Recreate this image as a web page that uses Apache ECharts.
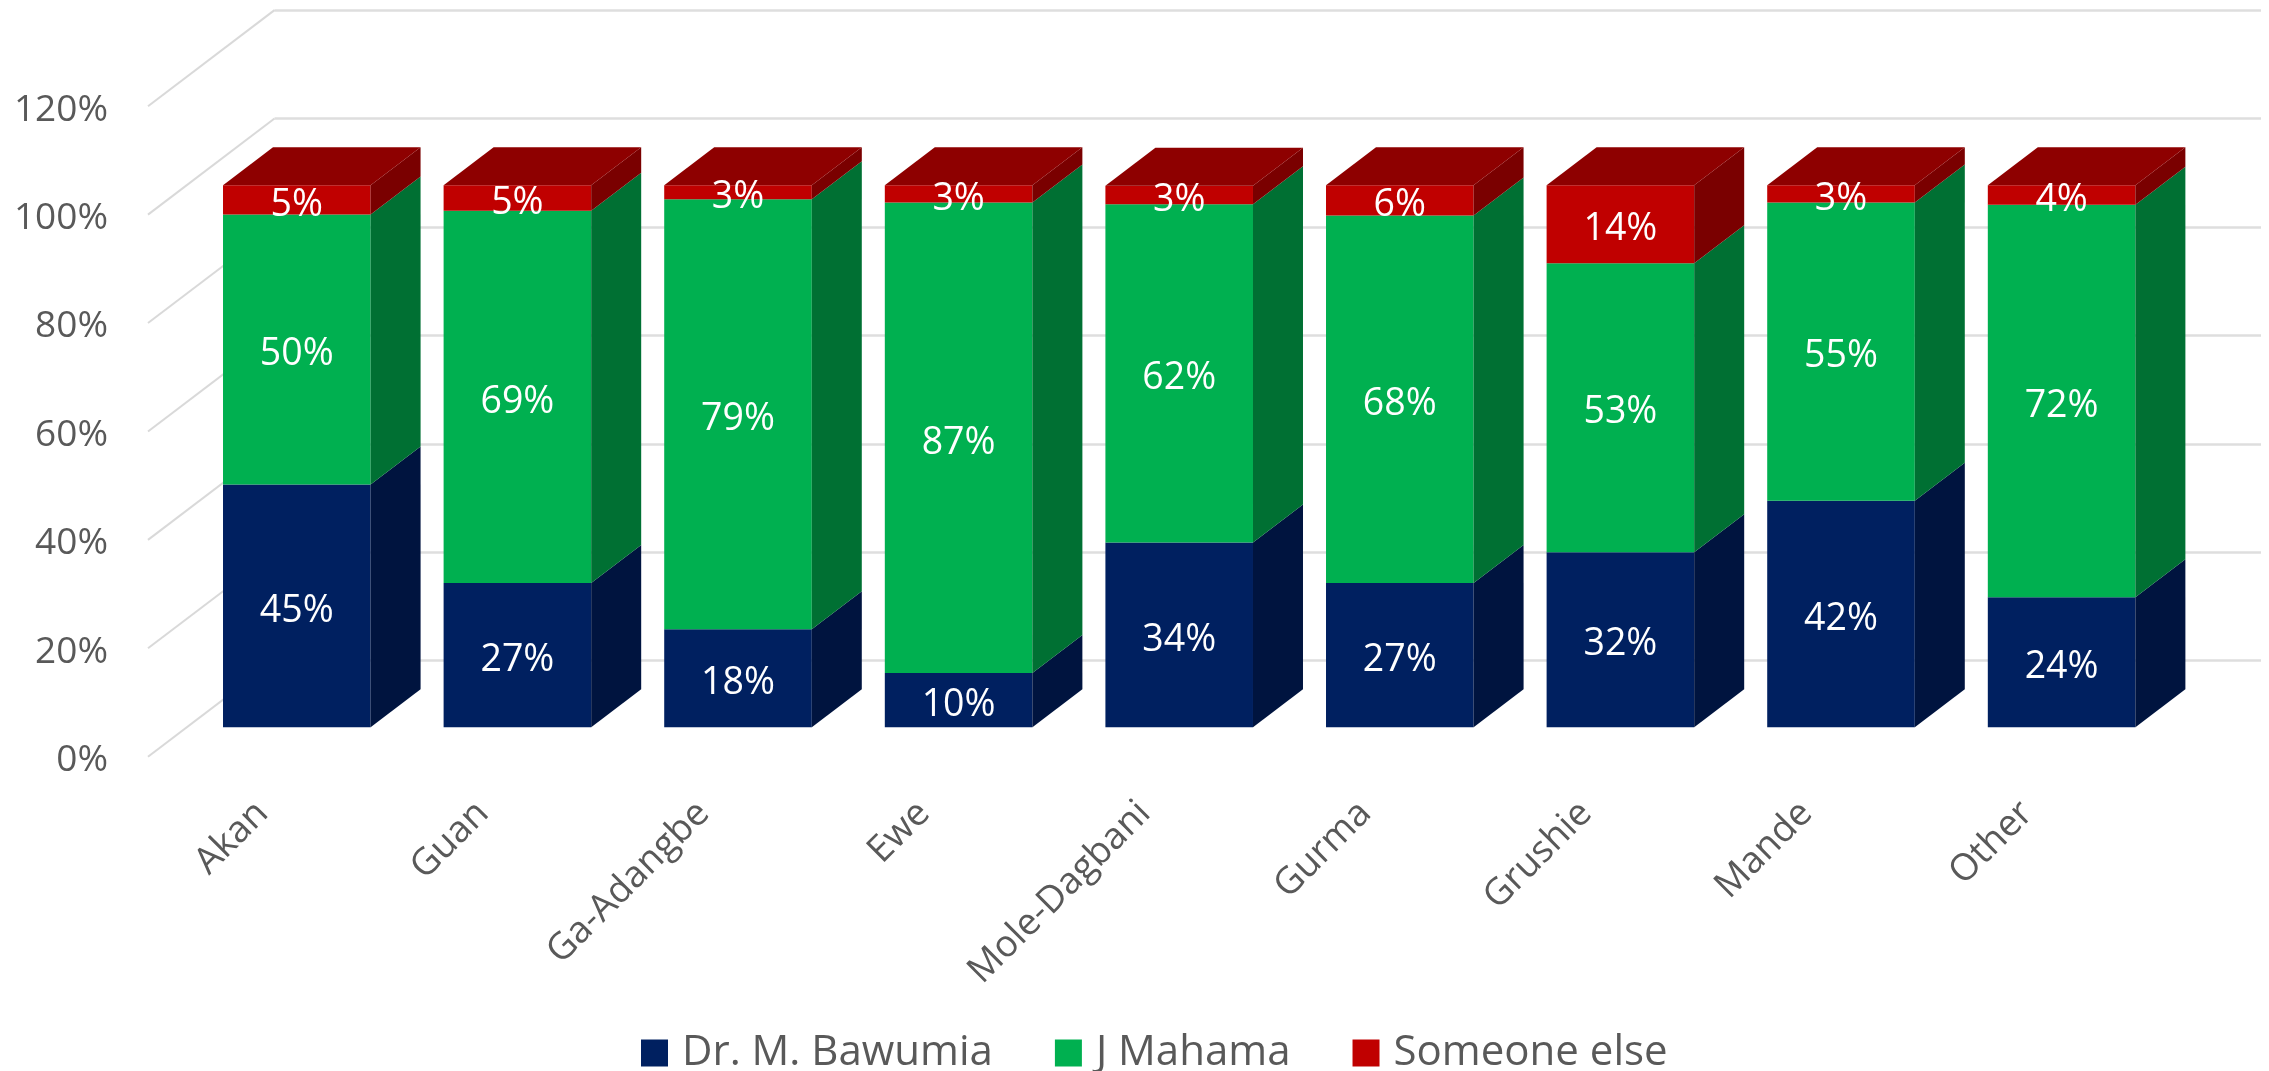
<!DOCTYPE html>
<html><head><meta charset="utf-8">
<style>html,body{margin:0;padding:0;background:#fff}#c{width:2269px;height:1071px}</style>
<script src="https://cdn.jsdelivr.net/npm/echarts@6/dist/echarts.min.js"></script>
</head><body><div id="c"></div>
<script>
const categories = ['Akan','Guan','Ga-Adangbe','Ewe','Mole-Dagbani','Gurma','Grushie','Mande','Other'];
const bawumia = [44.8,26.6,18.1,10.0,34.1,26.6,32.3,41.8,24.0];
const mahama  = [49.8,68.7,79.3,86.8,62.4,67.8,53.3,55.0,72.4];
const someone = [5.4,4.7,2.6,3.2,3.4,5.6,14.4,3.2,3.6];
const valueTicks = [0,20,40,60,80,100,120];
const seriesNames = ['Dr. M. Bawumia','J Mahama','Someone else'];
const FONT = '"Open Sans"';
const DX = 50, DY = 38;           // bar depth on screen
const WALL_DX = 126.5, WALL_DY = 96.1; // side-wall depth on screen
const palette = [
  {front:'#002060', side:'#00143F', top:'#00143F'},
  {front:'#00B050', side:'#007033', top:'#007033'},
  {front:'#C00000', side:'#7A0000', top:'#8E0000'}
];
function barRender(s){
  return function(params, api){
    const i = api.value(0), lo = api.value(1), hi = api.value(2), shown = api.value(3);
    const band = api.size([1,0])[0], w = band*0.669;
    const a = api.coord([i,lo]), b = api.coord([i,hi]);
    const x0 = a[0]-w/2, x1 = a[0]+w/2, y0 = a[1], y1 = b[1];
    const c = palette[s];
    const kids = [
      {type:'rect', shape:{x:x0,y:y1,width:w,height:y0-y1}, style:{fill:c.front}},
      {type:'polygon', shape:{points:[[x1,y0],[x1+DX,y0-DY],[x1+DX,y1-DY],[x1,y1]]}, style:{fill:c.side}}
    ];
    if (s===2) kids.push({type:'polygon', shape:{points:[[x0,y1],[x0+DX,y1-DY],[x1+DX,y1-DY],[x1,y1]]}, style:{fill:c.top}});
    kids.push({type:'text', z2:10, style:{text:Math.round(shown)+'%', x:a[0], y:(y0+y1)/2+5, align:'center', verticalAlign:'middle', fill:'#fff', font:'37.5px '+FONT}});
    return {type:'group', children:kids};
  };
}
function stackData(s){
  return categories.map((_,i)=>{
    const lo = (s>0?bawumia[i]:0)+(s>1?mahama[i]:0);
    const v = [bawumia,mahama,someone][s][i];
    return [i,lo,lo+v,v];
  });
}
const chart = echarts.init(document.getElementById('c'),null,{renderer:'canvas'});
const yBase = {type:'value',min:0,max:120,interval:20};
chart.setOption({
  animation:false,
  backgroundColor:'#fff',
  textStyle:{fontFamily:FONT},
  legend:{
    data:seriesNames.map((n,i)=>({name:n,icon:'rect',itemStyle:{color:palette[i].front}})),
    left:641, top:1032, padding:0, itemWidth:27, itemHeight:27, itemGap:62,
    textStyle:{fontFamily:FONT,fontSize:42,color:'#595959',padding:[0,0,0,9]}
  },
  grid:[
    {left:186.5,width:1985.4,top:76.8,height:650.5},   // plane of the bar fronts
    {left:148,width:1985.4,top:106.2,height:650.5},    // front edge of floor and side wall
    {left:274.5,width:1986.5,top:10.1,height:650.5},   // back wall
    {left:152,width:1985.4,top:110,height:650.5}       // axis labels
  ],
  xAxis:[
    {gridIndex:0,type:'category',data:categories,show:false},
    {gridIndex:1,type:'category',data:categories,show:false},
    {gridIndex:2,type:'category',data:categories,show:false},
    {gridIndex:3,type:'category',data:categories,axisLine:{show:false},axisTick:{show:false},
     axisLabel:{interval:0,rotate:45,margin:47,fontFamily:FONT,fontSize:37,color:'#595959'}}
  ],
  yAxis:[
    {...yBase,gridIndex:0,show:false},
    {...yBase,gridIndex:1,show:false},
    {...yBase,gridIndex:2,axisLine:{show:false},axisTick:{show:false},axisLabel:{show:false},
     splitLine:{show:true,lineStyle:{color:'#DEDEDE',width:2.5}}},
    {...yBase,gridIndex:3,axisLine:{show:false},axisTick:{show:false},splitLine:{show:false},
     axisLabel:{margin:44,formatter:'{value}%',fontFamily:FONT,fontSize:37,color:'#595959'}}
  ],
  series:[
    {type:'custom',name:'wall',xAxisIndex:1,yAxisIndex:1,silent:true,z:1,
     data:valueTicks.map(v=>[0,v]),
     renderItem:function(p,api){
       const band = api.size([1,0])[0];
       const pt = api.coord([0,api.value(1)]);
       const x = pt[0]-band/2;
       return {type:'line',shape:{x1:x,y1:pt[1],x2:x+WALL_DX,y2:pt[1]-WALL_DY},style:{stroke:'#D9D9D9',lineWidth:2}};
     }},
    ...seriesNames.map((n,s)=>({
      type:'custom',name:n,xAxisIndex:0,yAxisIndex:0,z:2+s,
      itemStyle:{color:palette[s].front},
      data:stackData(s),
      encode:{x:0,y:[1,2]},
      renderItem:barRender(s)
    }))
  ]
});
</script></body></html>
